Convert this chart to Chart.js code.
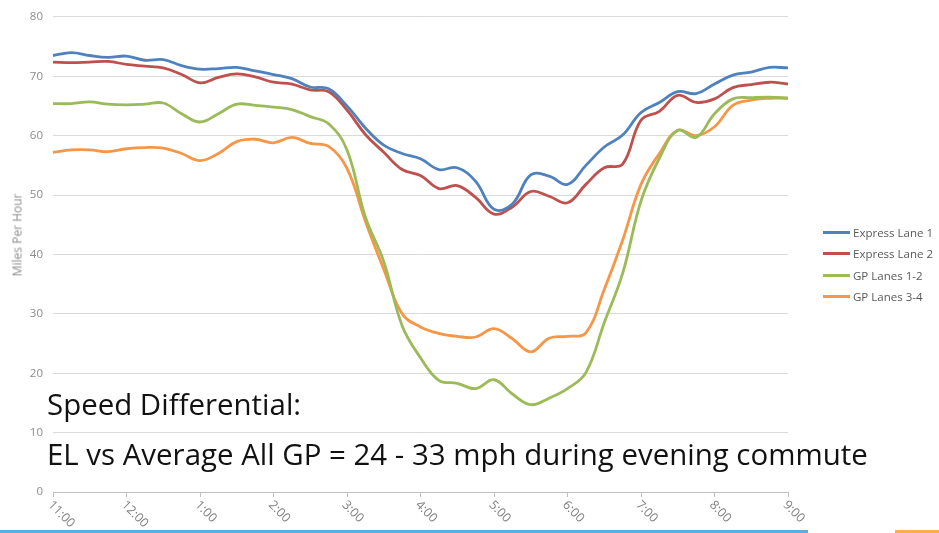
<!DOCTYPE html>
<html>
<head>
<meta charset="utf-8">
<script src="https://cdn.jsdelivr.net/npm/chart.js@4/dist/chart.umd.min.js"></script>
<style>
  html, body { margin: 0; padding: 0; background: #fff; }
  #wrap { position: relative; width: 939px; height: 533px; overflow: hidden; }
  #speed-chart { position: absolute; left: 0; top: 0; }
  .note { position: absolute; left: 47px; font-family: "Open Sans", sans-serif; font-size: 25px; color: #111; white-space: nowrap; line-height: 1; }
  #y-title { position: absolute; left: 17px; top: 235px; transform: translate(-50%, -50%) rotate(-90deg); font-family: "Open Sans", sans-serif; font-weight: 400; font-size: 12px; color: #8c8c8c; white-space: nowrap; }
  #legend { position: absolute; left: 823px; top: 222px; font-family: "Open Sans", sans-serif; font-size: 11.5px; color: #595959; }
  #legend div { height: 21.3px; display: flex; align-items: center; white-space: nowrap; }
  #legend span { display: inline-block; width: 27px; height: 3px; margin-right: 3px; }
  #bar-blue { position: absolute; left: 0; top: 530px; width: 808px; height: 3px; background: #5aaee0; }
  #bar-orange { position: absolute; left: 895px; top: 530px; width: 44px; height: 3px; background: #f6b14c; }
</style>
</head>
<body>
<div id="wrap">
  <canvas id="speed-chart" width="939" height="533"></canvas>
  <div id="y-title">Miles Per Hour</div>
  <div id="legend"></div>
  <div class="note" id="note1" style="top:390px">Speed Differential:</div>
  <div class="note" id="note2" style="top:440px">EL vs Average All GP = 24 - 33 mph during evening commute</div>
  <div id="bar-blue"></div>
  <div id="bar-orange"></div>
</div>
<script>
// 15 minute samples, 11:00 to 9:00
const times = [
    '11:00', '11:15', '11:30', '11:45', '12:00', '12:15', '12:30', '12:45',
    '1:00', '1:15', '1:30', '1:45', '2:00', '2:15', '2:30', '2:45',
    '3:00', '3:15', '3:30', '3:45', '4:00', '4:15', '4:30', '4:45',
    '5:00', '5:15', '5:30', '5:45', '6:00', '6:15', '6:30', '6:45',
    '7:00', '7:15', '7:30', '7:45', '8:00', '8:15', '8:30', '8:45', '9:00'
];

const expressLane1 = [
    73.5, 74.0, 73.5, 73.2, 73.4, 72.7, 72.8, 71.8, 71.2, 71.3, 71.5, 70.9, 70.3, 69.6, 68.2, 67.9,
    65.0, 61.3, 58.4, 57.0, 56.1, 54.3, 54.6, 52.3, 47.6, 48.5, 53.4, 53.2, 51.8, 55.0, 58.1, 60.1,
    63.9, 65.6, 67.4, 67.1, 68.7, 70.2, 70.7, 71.5, 71.4
];
const expressLane2 = [
    72.4, 72.3, 72.4, 72.5, 72.0, 71.7, 71.4, 70.3, 68.9, 69.8, 70.4, 69.9, 69.0, 68.7, 67.7, 67.4,
    64.3, 60.2, 57.2, 54.3, 53.3, 51.1, 51.6, 49.6, 46.8, 48.0, 50.6, 49.8, 48.7, 51.8, 54.6, 55.2,
    62.6, 64.1, 66.8, 65.6, 66.2, 68.1, 68.6, 69.0, 68.7
];
const gpLanes12 = [
    65.4, 65.4, 65.7, 65.3, 65.2, 65.3, 65.5, 63.7, 62.3, 63.7, 65.3, 65.1, 64.8, 64.4, 63.2, 62.0,
    57.6, 46.3, 38.8, 28.0, 22.6, 18.8, 18.3, 17.4, 18.9, 16.5, 14.7, 15.8, 17.4, 20.1, 28.5, 36.8,
    49.0, 56.2, 60.9, 59.7, 63.7, 66.2, 66.4, 66.5, 66.3
];
const gpLanes34 = [
    57.2, 57.6, 57.6, 57.3, 57.8, 58.0, 57.9, 57.0, 55.8, 57.0, 59.0, 59.4, 58.8, 59.7, 58.7, 58.2,
    54.5, 45.6, 37.5, 30.0, 27.8, 26.7, 26.2, 26.1, 27.5, 25.8, 23.6, 25.9, 26.2, 26.8, 34.1, 42.4,
    51.8, 57.0, 60.9, 60.0, 61.5, 65.1, 66.0, 66.3, 66.3
];

const seriesNames = ['Express Lane 1', 'Express Lane 2', 'GP Lanes 1-2', 'GP Lanes 3-4'];
const seriesColors = ['#4f81bd', '#c0504d', '#9bbb59', '#f79646'];
const seriesData = [expressLane1, expressLane2, gpLanes12, gpLanes34];

const yTicks = [0, 10, 20, 30, 40, 50, 60, 70, 80];

const labelFont = '"Open Sans", sans-serif';

// only the full hours get a tick mark and a label
function isHour(label) {
    return label.endsWith(':00');
}

// x labels are slanted downwards to the right, which chart.js can't do itself
const slantedLabels = {
    id: 'slantedLabels',
    afterDraw(chart) {
        const ctx = chart.ctx;
        const xScale = chart.scales.x;
        ctx.save();
        ctx.font = '12.5px ' + labelFont;
        ctx.fillStyle = '#7f7f7f';
        ctx.textAlign = 'left';
        ctx.textBaseline = 'middle';
        times.forEach((t, i) => {
            if (!isHour(t)) return;
            const x = xScale.getPixelForValue(i);
            ctx.save();
            ctx.translate(x - 3, xScale.top + 11);
            ctx.rotate(Math.PI / 4);
            ctx.fillText(t, 0, 0);
            ctx.restore();
        });
        ctx.restore();
    }
};

const ctx = document.getElementById('speed-chart').getContext('2d');
new Chart(ctx, {
    type: 'line',
    data: {
        labels: times,
        datasets: seriesData.map((d, i) => ({
            label: seriesNames[i],
            data: d,
            borderColor: seriesColors[i],
            backgroundColor: seriesColors[i],
            borderWidth: 2.8,
            pointRadius: 0,
            tension: 0.4,
            fill: false
        }))
    },
    options: {
        responsive: false,
        animation: false,
        layout: { padding: { top: 10, right: 151, left: 0, bottom: 0 } },
        plugins: {
            tooltip: { enabled: false },
            legend: { display: false }
        },
        scales: {
            x: {
                type: 'category',
                offset: false,
                afterFit: (s) => { s.height = 41; },
                grid: {
                    display: true,
                    drawOnChartArea: false,
                    drawTicks: true,
                    tickLength: 5,
                    tickColor: '#bfbfbf'
                },
                border: { color: '#bfbfbf', width: 1 },
                ticks: {
                    autoSkip: false,
                    maxRotation: 0,
                    color: 'rgba(0,0,0,0)',
                    font: { size: 1 },
                    callback: (v, i) => isHour(times[i]) ? times[i] : null
                }
            },
            y: {
                min: 0,
                max: 80,
                afterFit: (s) => { s.width = 53; },
                afterBuildTicks: (s) => { s.ticks = yTicks.map(v => ({ value: v })); },
                grid: { color: '#d9d9d9', lineWidth: 1, drawTicks: false },
                border: { display: false },
                ticks: {
                    padding: 10,
                    color: '#8c8c8c',
                    font: { family: labelFont, size: 11.5 }
                }
            }
        }
    },
    plugins: [slantedLabels]
});

// legend on the right, same names and colours as the datasets
const legend = document.getElementById('legend');
seriesNames.forEach((name, i) => {
    const row = document.createElement('div');
    const line = document.createElement('span');
    line.style.background = seriesColors[i];
    row.appendChild(line);
    row.appendChild(document.createTextNode(name));
    legend.appendChild(row);
});

// stretch the two note lines to the width they take in the slide
const note2 = document.getElementById('note2');
const scale = 821 / note2.offsetWidth;
document.querySelectorAll('.note').forEach(n => {
    n.style.fontSize = (25 * scale).toFixed(2) + 'px';
});
</script>
</body>
</html>
